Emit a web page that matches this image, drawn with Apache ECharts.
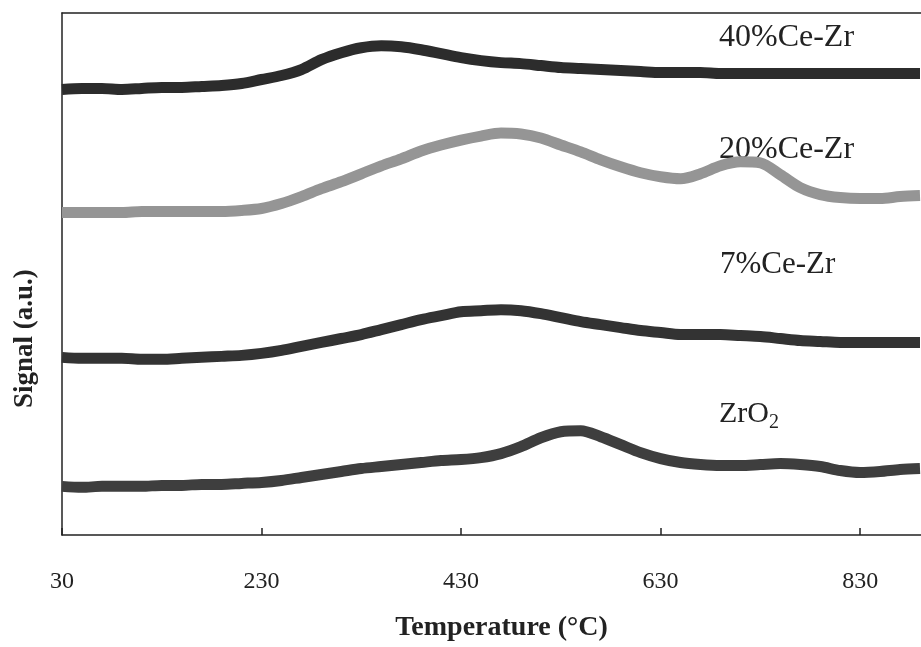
<!DOCTYPE html>
<html>
<head>
<meta charset="utf-8">
<script src="https://cdn.jsdelivr.net/npm/echarts@6/dist/echarts.min.js"></script>
<style>
html,body{margin:0;padding:0;background:#fff;}
#chart{width:921px;height:647px;}
</style>
</head>
<body>
<div id="chart"></div>
<script>
// Temperature (°C), every 20 °C from 30 to 890
const temperatures = [30,50,70,90,110,130,150,170,190,210,230,250,270,290,310,330,350,370,390,410,430,450,470,490,510,530,550,570,590,610,630,650,670,690,710,730,750,770,790,810,830,850,870,890];

// Signal (a.u.) — curves are vertically offset as in the figure
const ce40 = [449,450,450,449,450,451,451,452,453,455,459,463,469,479,486,491,493,492,489,485,481,478,476,475,473,471,470,469,468,467,466,466,466,465,465,465,465,465,465,465,465,465,465,465];
const ce20 = [325,325,325,325,326,326,326,326,326,327,329,334,341,349,356,364,372,379,387,393,398,402,405,404,400,393,386,378,371,365,361,359,364,372,376,375,363,350,343,340,339,339,341,342];
const ce7  = [179,178,178,178,177,177,178,179,180,181,183,186,190,194,198,202,207,212,217,221,225,226,227,226,223,219,215,212,209,206,204,202,202,202,201,200,198,196,195,194,194,194,194,194];
const zro2 = [49,48,49,49,49,50,50,51,51,52,53,55,58,61,64,67,69,71,73,75,76,78,82,89,98,104,105,99,91,83,77,73,71,70,70,71,72,71,69,65,63,64,66,67];

const seriesNames = ['40%Ce-Zr','20%Ce-Zr','7%Ce-Zr','ZrO2'];
const xTicks = [30,230,430,630,830];

const chart = echarts.init(document.getElementById('chart'), null, {renderer:'canvas'});
const serif = '"Liberation Serif","Times New Roman",serif';

function mk(name, vals, color, width){
  return {
    name: name, type:'line', showSymbol:false, smooth:0.3,
    data: temperatures.map((t,i)=>[t, vals[i]]),
    lineStyle:{color:color, width:width, cap:'butt', join:'round'},
    silent:true, animation:false
  };
}

chart.setOption({
  animation:false,
  backgroundColor:'#fff',
  grid:{left:62, top:13, right:0, bottom:108},
  xAxis:[{
    type:'value', min:30, max:891, interval:200,
    axisLine:{show:true, lineStyle:{color:'#222', width:1.5}},
    axisTick:{show:true, inside:true, length:7, lineStyle:{color:'#222', width:1.5}},
    axisLabel:{show:true, margin:35, fontFamily:serif, fontSize:24, color:'#222', showMaxLabel:false,
      formatter:v=> xTicks.includes(v) ? String(v) : ''},
    splitLine:{show:false},
    name:'Temperature (°C)', nameLocation:'middle', nameGap:79,
    nameTextStyle:{fontFamily:serif, fontWeight:'bold', fontSize:28, color:'#222', padding:[0,0,0,20]}
  },{
    type:'value', position:'top', min:30, max:891,
    axisLine:{show:true, lineStyle:{color:'#222', width:1.5}},
    axisTick:{show:false}, axisLabel:{show:false}, splitLine:{show:false}
  }],
  yAxis:{
    type:'value', min:0, max:526,
    axisLine:{show:true, lineStyle:{color:'#222', width:1.5}},
    axisTick:{show:false}, axisLabel:{show:false}, splitLine:{show:false}
  },
  graphic:[
    {type:'text', rotation:Math.PI/2, position:[12,408],
     style:{text:'Signal (a.u.)', font:'bold 27px '+serif, fill:'#222'}},
    {type:'text', position:[719,22], style:{text:'40%Ce-Zr', font:'32px '+serif, fill:'#222'}},
    {type:'text', position:[719,134], style:{text:'20%Ce-Zr', font:'32px '+serif, fill:'#222'}},
    {type:'text', position:[720,249], style:{text:'7%Ce-Zr', font:'31px '+serif, fill:'#222'}},
    {type:'text', position:[719,399], style:{text:'ZrO', font:'30px '+serif, fill:'#222'}},
    {type:'text', position:[769,413], style:{text:'2', font:'20px '+serif, fill:'#222'}}
  ],
  series:[
    mk(seriesNames[0], ce40, '#2c2c2c', 11),
    mk(seriesNames[1], ce20, '#959595', 11),
    mk(seriesNames[2], ce7,  '#333333', 11),
    mk(seriesNames[3], zro2, '#3e3e3e', 11)
  ]
});
</script>
</body>
</html>
